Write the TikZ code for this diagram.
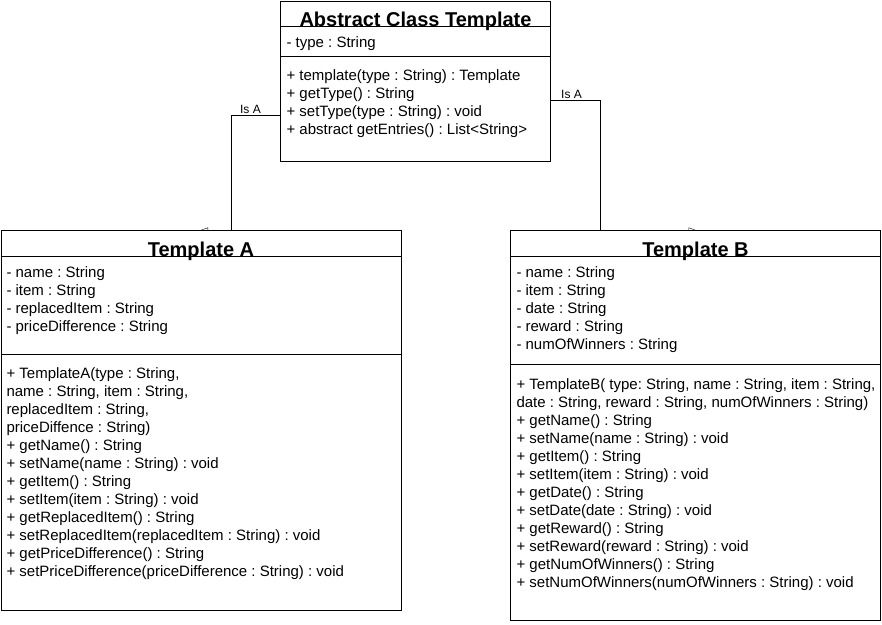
\documentclass[tikz,border=0pt]{standalone}
\usepackage{fontspec}
\setmainfont{Liberation Sans}
\usetikzlibrary{arrows.meta}
\pgfdeclarelayer{bg}
\pgfsetlayers{bg,main}
\newcommand\mystrut{\rule{0pt}{13pt}}
\frenchspacing
\begin{document}
\begin{tikzpicture}[x=1pt,y=-1pt, line width=1pt,
 cls/.style={draw, fill=white, inner sep=0, anchor=north west},
 ttl/.style={font=\fontsize{20}{23}\selectfont\bfseries, inner sep=0, anchor=base},
 txt/.style={font=\fontsize{15}{18}\selectfont\frenchspacing, align=left, inner sep=0, anchor=north west},
 lbl/.style={font=\fontsize{12}{14}\selectfont, inner sep=0},
 isa/.style={-{Triangle[open, length=7pt, width=5pt]}}]
\useasboundingbox (0,0) rectangle (882,624);
% Abstract class
\node[cls, minimum width=270pt, minimum height=160pt] (abs) at (280,0.5) {};
\draw ([yshift=-26pt]abs.north west) -- ([yshift=-26pt]abs.north east);
\draw ([yshift=-56pt]abs.north west) -- ([yshift=-56pt]abs.north east);
\node[ttl] (absT) at ([yshift=-26pt]abs.north) {Abstract Class Template};
\node[txt] (absA) at ([xshift=6pt,yshift=-33pt]abs.north west) {\mystrut- type : String};
\node[txt] (absM) at ([xshift=6pt,yshift=-66.5pt]abs.north west) {\mystrut+ template(type : String) : Template\\
+ getType() : String\\
+ setType(type : String) : void\\
+ abstract getEntries() : List<String>};
% Template A
\node[cls, minimum width=400pt, minimum height=380pt] (A) at (0.5,230) {};
\draw ([yshift=-26pt]A.north west) -- ([yshift=-26pt]A.north east);
\draw ([yshift=-124pt]A.north west) -- ([yshift=-124pt]A.north east);
\node[ttl] (AT) at ([yshift=-26pt]A.north) {Template A};
\node[txt] (AA) at ([xshift=5.5pt,yshift=-34pt]A.north west) {\mystrut- name : String\\
- item : String\\
- replacedItem : String\\
- priceDifference : String};
\node[txt] (AM) at ([xshift=5.5pt,yshift=-135pt]A.north west) {\mystrut+ TemplateA(type : String,\\
name : String, item : String,\\
replacedItem : String,\\
priceDiffence : String)\\
+ getName() : String\\
+ setName(name : String) : void\\
+ getItem() : String\\
+ setItem(item : String) : void\\
+ getReplacedItem() : String\\
+ setReplacedItem(replacedItem : String) : void\\
+ getPriceDifference() : String\\
+ setPriceDifference(priceDifference : String) : void};
% Template B
\node[cls, minimum width=370pt, minimum height=390pt] (B) at (510,230) {};
\draw ([yshift=-26pt]B.north west) -- ([yshift=-26pt]B.north east);
\draw ([yshift=-134pt]B.north west) -- ([yshift=-134pt]B.north east);
\node[ttl] (BT) at ([yshift=-26pt]B.north) {Template B};
\node[txt] (BA) at ([xshift=6pt,yshift=-34pt]B.north west) {\mystrut- name : String\\
- item : String\\
- date : String\\
- reward : String\\
- numOfWinners : String};
\node[txt] (BM) at ([xshift=6pt,yshift=-145.5pt]B.north west) {\mystrut+ TemplateB( type: String, name : String, item : String,\\
date : String, reward : String, numOfWinners : String)\\
+ getName() : String\\
+ setName(name : String) : void\\
+ getItem() : String\\
+ setItem(item : String) : void\\
+ getDate() : String\\
+ setDate(date : String) : void\\
+ getReward() : String\\
+ setReward(reward : String) : void\\
+ getNumOfWinners() : String\\
+ setNumOfWinners(numOfWinners : String) : void};
% connectors
\begin{pgfonlayer}{bg}
\draw[isa] ([yshift=-115pt]abs.north west) -| ([xshift=30pt]A.north) -- (A.north);
\draw[isa] ([yshift=-100pt]abs.north east) -| ([xshift=-95pt]B.north) -- (B.north);
\end{pgfonlayer}
\node[lbl, anchor=base east] (isaA) at ([xshift=-19pt,yshift=-113pt]abs.north west) {Is A};
\node[lbl, anchor=base west] (isaB) at ([xshift=10pt,yshift=-98pt]abs.north east) {Is A};
\end{tikzpicture}
\end{document}
